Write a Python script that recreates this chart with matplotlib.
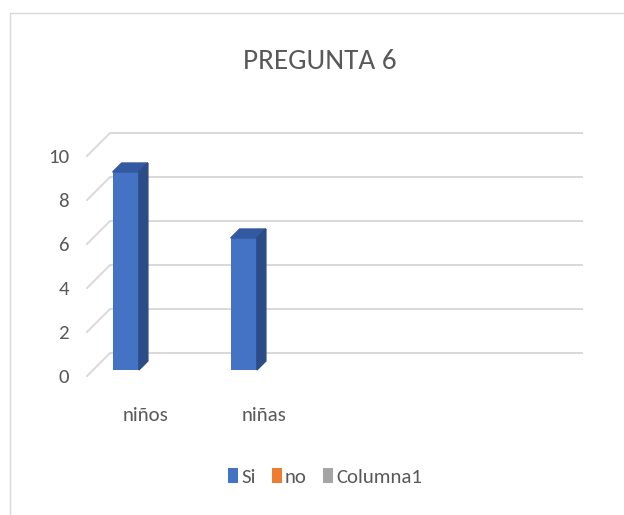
import numpy as np
import matplotlib.pyplot as plt
from matplotlib.patches import Polygon, Patch
from matplotlib.lines import Line2D

categories = ["niños", "niñas", "", ""]
series_names = ["Si", "no", "Columna1"]
si_values = [9, 6, None, None]
no_values = [None, None, None, None]
col1_values = [None, None, None, None]
yticks = [0, 2, 4, 6, 8, 10]

series = [si_values, no_values, col1_values]
colors = ["#4472C4", "#ED7D31", "#A5A5A5"]
tops = ["#3359A0", "#C0621F", "#878787"]
sides = ["#2B4C86", "#A8561B", "#7A7A7A"]
TXT = "#595959"

# Carlito = metric clone of Calibri
plt.rcParams["font.family"] = ["Carlito", "DejaVu Sans"]

W, H = 624, 515
fig = plt.figure(figsize=(W / 100, H / 100), dpi=100)

# front plane of the 3d plot, in pixels
x0, x1 = 87, 559
y0, y1 = 376, 156
ax = fig.add_axes([x0 / W, 1 - y0 / H, (x1 - x0) / W, (y0 - y1) / H])
ax.set_xlim(0, len(categories))
ax.set_ylim(0, yticks[-1])

ux = (x1 - x0) / len(categories)
uy = (y0 - y1) / yticks[-1]
# depth offsets (px -> data units)
wall_dx, wall_dy = 23 / ux, 23 / uy
front_dx, front_dy = 6 / ux, 6 / uy
deep_dx, deep_dy = 9 / ux, 9 / uy

# back wall gridlines + floor diagonals
for v in yticks:
    ax.plot([0, wall_dx, len(categories) + wall_dx], [v, v + wall_dy, v + wall_dy],
            color="#D9D9D9", lw=1.4, clip_on=False, zorder=1)

gap = 1.5
bw = 1 / (len(series) + gap)
start = gap / 2 * bw
for j, vals in enumerate(series):
    for i, v in enumerate(vals):
        if v is None:
            continue
        left = i + start + j * bw + front_dx
        bot = front_dy
        ax.bar(left, v, width=bw, bottom=bot, align="edge", color=colors[j],
               clip_on=False, zorder=3)
        top_poly = [(left, bot + v), (left + bw, bot + v),
                    (left + bw + deep_dx, bot + v + deep_dy), (left + deep_dx, bot + v + deep_dy)]
        side_poly = [(left + bw, bot), (left + bw + deep_dx, bot + deep_dy),
                     (left + bw + deep_dx, bot + v + deep_dy), (left + bw, bot + v)]
        ax.add_patch(Polygon(top_poly, closed=True, color=tops[j], clip_on=False, zorder=3))
        ax.add_patch(Polygon(side_poly, closed=True, color=sides[j], clip_on=False, zorder=3))

ax.set_yticks(yticks)
ax.set_xticks(np.arange(len(categories)) + 0.5, categories)
ax.tick_params(axis="y", length=0, pad=13, labelsize=15, labelcolor=TXT)
ax.tick_params(axis="x", length=0, pad=22, labelsize=15, labelcolor=TXT)
for s in ax.spines.values():
    s.set_visible(False)
ax.patch.set_visible(False)

fig.text(320 / W, 1 - 69 / H, "PREGUNTA 6", ha="center", va="baseline",
         fontsize=21, color=TXT)

handles = [Patch(facecolor=c) for c in colors]
fig.legend(handles, series_names, loc="center", bbox_to_anchor=(325 / W, 1 - 477 / H),
           ncol=3, frameon=False, fontsize=15, labelcolor=TXT,
           handlelength=0.5, handleheight=0.75, handletextpad=0.15, columnspacing=0.75)

# chart area border (only left and top visible in the crop)
fig.add_artist(Line2D([10 / W, 10 / W], [0, 1 - 13 / H], transform=fig.transFigure,
                      color="#D9D9D9", lw=1))
fig.add_artist(Line2D([10 / W, 1], [1 - 13 / H, 1 - 13 / H], transform=fig.transFigure,
                      color="#D9D9D9", lw=1))

fig.savefig("out.png", dpi=100)
